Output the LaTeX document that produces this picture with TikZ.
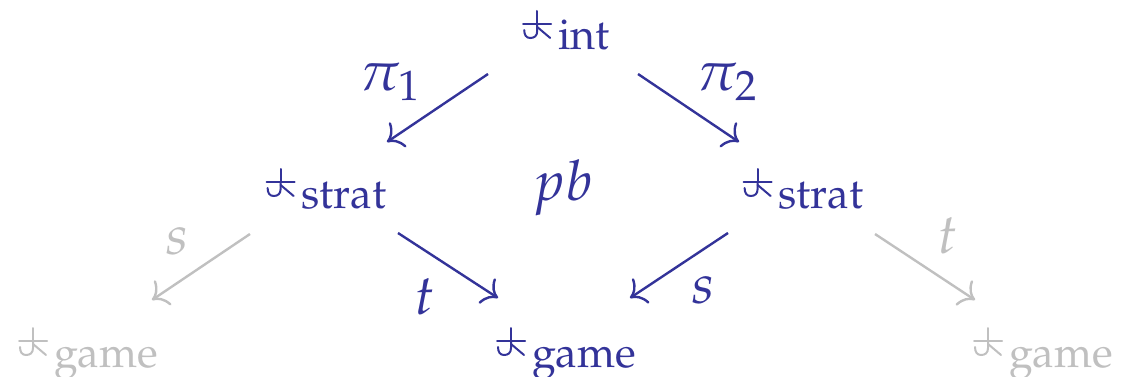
\documentclass[tikz,border=0pt]{standalone}
\usepackage[T1]{fontenc}
\usepackage{mathpazo}
\usepackage{graphicx}
\usetikzlibrary{arrows.meta}
\definecolor{cblue}{RGB}{51,51,153}
\definecolor{cgray}{RGB}{192,192,192}
\newcommand\lblmath[1]{\scalebox{1.3}{$#1$}}
\begin{document}
\begin{tikzpicture}[x=1pt,y=-1pt,
  every node/.style={inner sep=0pt,outer sep=0pt,font=\fontsize{43}{50}\selectfont},
  obj/.style={anchor=base},
  lab/.style={anchor=center},
  arr/.style={line width=2.4pt,-{Computer Modern Rightarrow[length=14pt,width=30pt]}},
  blue/.style={text=cblue,draw=none},
  grey/.style={text=cgray,draw=none},
  glyph/.pic={
    \draw[line width=2pt,line cap=round] (0,-27) -- (0,-14);
    \draw[line width=2pt,line cap=round] (-14,-14) -- (14,-14);
    \draw[line width=2pt,line cap=round] (0,-14) -- (0,-7) .. controls (0,-2) and (-3,0) .. (-7,0) .. controls (-11,0) and (-13,-3) .. (-13,-8);
    \draw[line width=2pt,line cap=round] (0,-11) -- (13,0);
  }]
\useasboundingbox (0,0) rectangle (1121,377);
\node[obj,blue] (int) at (566,50) {\hspace{36pt}int};
\node[obj,blue] (stratL) at (326,208) {\hspace{36pt}strat};
\node[obj,blue] (stratR) at (803,208) {\hspace{36pt}strat};
\node[obj,blue] (gameC) at (566,367) {\hspace{36pt}game};
\node[obj,grey] (gameL) at (88,367) {\hspace{36pt}game};
\node[obj,grey] (gameR) at (1043,367) {\hspace{36pt}game};
\foreach \n in {int,stratL,stratR,gameC}
  \pic[cblue] at ([shift={(15,-12)}]\n.base west) {glyph};
\foreach \n in {gameL,gameR}
  \pic[cgray] at ([shift={(15,-12)}]\n.base west) {glyph};
\node[lab,blue] (pb) at (563,188) {\lblmath{pb}};
\node[lab,blue] (pi1) at (390,82) {\lblmath{\pi_1}};
\node[lab,blue] (pi2) at (727,82) {\lblmath{\pi_2}};
\node[lab,blue] (lt) at (425,297) {\lblmath{t}};
\node[lab,blue] (ls) at (703,290) {\lblmath{s}};
\node[lab,grey] (gs) at (177,241) {\lblmath{s}};
\node[lab,grey] (gt) at (948,236) {\lblmath{t}};
\draw[arr,cblue] ([shift={(-78,24)}]int.base) -- ([shift={(61,-66)}]stratL.base);
\draw[arr,cblue] ([shift={(72,24)}]int.base) -- ([shift={(-64,-66)}]stratR.base);
\draw[arr,cblue] ([shift={(72,25)}]stratL.base) -- ([shift={(-68,-69)}]gameC.base);
\draw[arr,cblue] ([shift={(-75,25)}]stratR.base) -- ([shift={(64,-69)}]gameC.base);
\draw[arr,cgray] ([shift={(-76,26)}]stratL.base) -- ([shift={(64,-67)}]gameL.base);
\draw[arr,cgray] ([shift={(72,26)}]stratR.base) -- ([shift={(-68,-67)}]gameR.base);
\end{tikzpicture}
\end{document}
